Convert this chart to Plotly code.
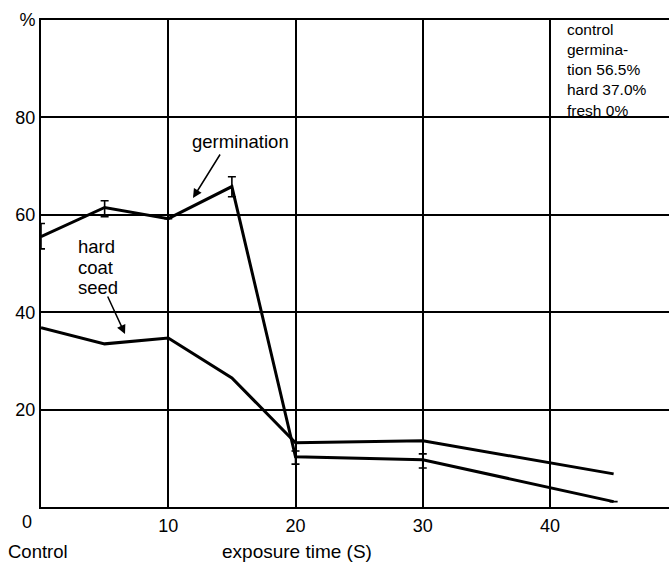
import plotly.graph_objects as go

# Data
exposure = [0, 5, 10, 15, 20, 30, 45]
germination = [55.5, 61.5, 59.2, 65.8, 10.3, 9.7, 1.1]
germ_err_plus = [2.7, 1.4, None, 2.0, 1.2, 1.2, None]
germ_err_minus = [2.5, 1.9, None, 2.1, 1.5, 1.7, None]
hard_coat = [36.8, 33.5, 34.7, 26.5, 13.2, 13.6, 6.8]

x_ticks = [10, 20, 30, 40]
y_ticks = [20, 40, 60, 80, 100]
y_tick_text = ["20", "40", "60", "80", "%"]
ctrl_lines = ["control", "germina-", "tion 56.5%", "hard 37.0%", "fresh 0%"]

FONT = "Liberation Sans, Arial, Helvetica, sans-serif"

fig = go.Figure()
fig.add_trace(go.Scatter(
    x=exposure, y=hard_coat, mode="lines",
    line=dict(color="black", width=3), name="hard coat seed",
    showlegend=False,
))
fig.add_trace(go.Scatter(
    x=exposure, y=germination, mode="lines",
    line=dict(color="black", width=3), name="germination",
    error_y=dict(type="data", symmetric=False, array=germ_err_plus,
                 arrayminus=germ_err_minus, color="black",
                 thickness=1.6, width=4),
    showlegend=False,
))

# pixel -> data helpers for annotation placement (plot area: x 41..669, y 20..507)
def px2x(px):
    return (px - 41) / 12.725

def py2y(py):
    return (507 - py) / 4.87

ann = []
# box of control values (single multi-line text)
ann.append(dict(x=px2x(565), y=py2y(69.5), text="<br>".join(ctrl_lines),
                showarrow=False, xanchor="left", yanchor="middle", align="left",
                font=dict(size=15.5, color="black", family=FONT)))

# germination label + arrow
ann.append(dict(x=px2x(240), y=py2y(141), text="germination", showarrow=False,
                xanchor="center", yanchor="middle",
                font=dict(size=18.5, color="black", family=FONT)))
ann.append(dict(x=px2x(193), y=py2y(198), ax=28, ay=-45, text="",
                showarrow=True, arrowhead=2, arrowsize=1.2, arrowwidth=1.5,
                arrowcolor="black"))

# hard coat seed label + arrow
for t, yy in zip(["hard", "coat", "seed"], [246, 267, 287]):
    ann.append(dict(x=px2x(76), y=py2y(yy), text=t, showarrow=False,
                    xanchor="left", yanchor="middle",
                    font=dict(size=18.5, color="black", family=FONT)))
ann.append(dict(x=px2x(125), y=py2y(334), ax=-18, ay=-39, text="",
                showarrow=True, arrowhead=2, arrowsize=1.2, arrowwidth=1.5,
                arrowcolor="black"))

# origin "0", "Control", axis title
ann.append(dict(x=0, y=0, text="0", showarrow=False, xanchor="center",
                yanchor="middle", xshift=-14, yshift=-15,
                font=dict(size=18, color="black", family=FONT)))
ann.append(dict(x=0, y=0, text="Control", showarrow=False, xanchor="center",
                yanchor="middle", xshift=-3, yshift=-44,
                font=dict(size=18.5, color="black", family=FONT)))
ann.append(dict(x=px2x(297), y=0, text="exposure time (S)", showarrow=False,
                xanchor="center", yanchor="middle", yshift=-44,
                font=dict(size=19, color="black", family=FONT)))

fig.update_layout(
    width=669, height=566,
    margin=dict(l=41, r=0, t=20, b=59, pad=0),
    paper_bgcolor="white", plot_bgcolor="white",
    font=dict(family=FONT, size=18, color="black"),
    annotations=ann,
    showlegend=False,
)
fig.update_xaxes(
    range=[0, px2x(669)], tickmode="array", tickvals=x_ticks,
    ticktext=[str(v) for v in x_ticks],
    showgrid=True, gridcolor="black", gridwidth=1.5,
    showline=True, linecolor="black", linewidth=2, mirror=True,
    zeroline=False, ticks="", ticklabelstandoff=1, automargin=False,
    tickfont=dict(size=18, color="black", family=FONT),
)
fig.update_yaxes(
    range=[0, 100], tickmode="array", tickvals=y_ticks, ticktext=y_tick_text,
    showgrid=True, gridcolor="black", gridwidth=1.5,
    showline=True, linecolor="black", linewidth=2,
    zeroline=False, ticks="", ticklabelstandoff=0, automargin=False,
    tickfont=dict(size=18, color="black", family=FONT),
)

fig.write_html("out.html")
